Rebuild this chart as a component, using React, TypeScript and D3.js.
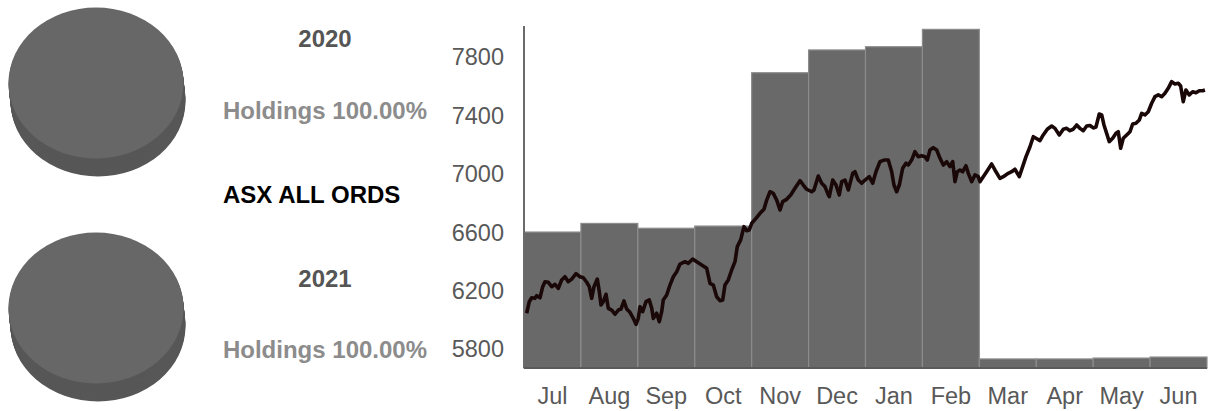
import React from 'react';
import * as d3 from 'd3';

const months = ['Jul', 'Aug', 'Sep', 'Oct', 'Nov', 'Dec', 'Jan', 'Feb', 'Mar', 'Apr', 'May', 'Jun'];
const barValues = [6601, 6660, 6627, 6642, 7692, 7848, 7870, 7989, 5732, 5732, 5738, 5745];
const yTicks = [5800, 6200, 6600, 7000, 7400, 7800];

const lineMonthOffset = [
  0.047, 0.093, 0.135, 0.193, 0.223, 0.281, 0.329, 0.369, 0.427, 0.487, 0.545, 0.603, 0.662, 0.72, 0.778, 0.838, 0.914, 0.984,
  1.042, 1.102, 1.147, 1.189, 1.23, 1.288, 1.323, 1.353, 1.393, 1.441, 1.481, 1.541, 1.599, 1.657, 1.704, 1.757, 1.804, 1.862, 1.92, 1.968,
  2.008, 2.038, 2.085, 2.143, 2.201, 2.244, 2.272, 2.331, 2.377, 2.419, 2.447, 2.507, 2.565, 2.623, 2.683, 2.741, 2.829, 2.887, 2.964,
  3.034, 3.122, 3.21, 3.268, 3.326, 3.385, 3.443, 3.491, 3.531, 3.589, 3.649, 3.707, 3.747, 3.807, 3.865, 3.913, 3.958,
  4.0, 4.076, 4.146, 4.216, 4.264, 4.322, 4.38, 4.44, 4.498, 4.545, 4.615, 4.686, 4.761, 4.849, 4.907, 4.967,
  5.054, 5.095, 5.17, 5.23, 5.288, 5.346, 5.364, 5.424, 5.482, 5.539, 5.582, 5.64, 5.698, 5.775, 5.815, 5.873, 5.933, 5.991,
  6.066, 6.126, 6.184, 6.254, 6.325, 6.4, 6.46, 6.5, 6.548, 6.594, 6.653, 6.711, 6.752, 6.811, 6.869, 6.927, 6.987,
  7.045, 7.086, 7.133, 7.191, 7.251, 7.309, 7.367, 7.426, 7.484, 7.532, 7.572, 7.612, 7.66, 7.707, 7.765, 7.806, 7.865, 7.923, 7.982,
  8.011, 8.069, 8.128, 8.216, 8.274, 8.362, 8.421, 8.508, 8.568, 8.626, 8.702, 8.761, 8.82, 8.89, 8.948, 8.995,
  9.065, 9.123, 9.194, 9.271, 9.329, 9.405, 9.475, 9.534, 9.592, 9.65, 9.71, 9.768, 9.826, 9.886, 9.944,
  10.002, 10.049, 10.107, 10.15, 10.19, 10.237, 10.283, 10.343, 10.401, 10.441, 10.483, 10.529, 10.589, 10.647, 10.694, 10.752, 10.81, 10.852, 10.91, 10.968,
  11.028, 11.086, 11.144, 11.203, 11.261, 11.319, 11.379, 11.437, 11.495, 11.537, 11.583, 11.63, 11.688, 11.748, 11.806, 11.864, 11.924, 11.964,
];

const lineValues = [
  6045, 6124, 6151, 6147, 6165, 6151, 6227, 6261, 6257, 6227, 6243, 6216, 6273, 6295, 6261, 6279, 6316, 6295,
  6288, 6257, 6227, 6147, 6227, 6279, 6193, 6101, 6124, 6175, 6079, 6067, 6038, 6067, 6074, 6129, 6074, 6051, 6010, 5969,
  6010, 6090, 6056, 6124, 6136, 6079, 6010, 6045, 5987, 6056, 6136, 6170, 6238, 6295, 6329, 6382, 6398, 6387, 6416,
  6398, 6375, 6353, 6250, 6238, 6158, 6131, 6136, 6238, 6273, 6341, 6398, 6501, 6547, 6638, 6610, 6615,
  6661, 6695, 6729, 6757, 6820, 6877, 6866, 6820, 6752, 6809, 6825, 6855, 6901, 6953, 6923, 6894,
  6877, 6889, 6985, 6935, 6912, 6855, 6843, 6957, 6923, 6855, 6946, 6957, 6889, 7003, 7014, 6957, 6935, 6957,
  6980, 6935, 7014, 7083, 7094, 7094, 7014, 6923, 6877, 6923, 7038, 7072, 7060, 7094, 7151, 7117, 7124,
  7117, 7094, 7163, 7179, 7163, 7106, 7060, 7083, 7049, 7083, 6946, 7014, 7026, 7014, 7055, 7003, 6946, 6992, 6980,
  6946, 6980, 7014, 7067, 7026, 6969, 6980, 7003, 7014, 7031, 6980, 7049, 7117, 7185, 7254, 7243,
  7227, 7266, 7305, 7327, 7311, 7266, 7305, 7311, 7295, 7305, 7334, 7311, 7295, 7327, 7331,
  7314, 7320, 7409, 7403, 7334, 7277, 7220, 7243, 7277, 7288, 7175, 7243, 7266, 7288, 7341, 7346, 7368, 7414, 7403, 7425,
  7483, 7528, 7540, 7528, 7551, 7585, 7631, 7615, 7620, 7601, 7494, 7574, 7540, 7562, 7555, 7569, 7569, 7574,
];

const pieYears = ['2020', '2021'];
const pieHoldings = [100, 100];
const holdingsLabel = 'Holdings';
const indexName = 'ASX ALL ORDS';

const FONT = '"Liberation Sans", Arial, Helvetica, sans-serif';

export default function App() {
  const W = 1209;
  const H = 411;
  const left = 524;
  const right = 1207;
  const top = 26;
  const bottom = 368;

  const xBand = d3.scaleBand<string>().domain(months).range([left, right]).padding(0);
  const xLine = d3.scaleLinear().domain([0, 12]).range([left, right]);
  const y = d3.scaleLinear().domain([5670, 8012]).range([bottom, top]);

  const linePath = d3
    .line<number>()
    .x((_, i) => xLine(lineMonthOffset[i]))
    .y((d) => y(d))(lineValues) as string;

  const rx = 87.5;
  const ryScale = 75.5 / 87.5;
  const depth = 18;
  const arc = d3.arc<d3.PieArcDatum<number>>().innerRadius(0).outerRadius(rx);
  const pieCenters = [
    { cx: 96, cy: 83 },
    { cx: 96, cy: 308 },
  ];
  const textCx = 325;
  const yearBaselines = [47, 287];
  const holdBaselines = [119, 358];

  return (
    <div style={{ position: 'absolute', left: 0, top: 0, width: W, height: H, background: '#fff' }}>
      <svg width={W} height={H} style={{ display: 'block', fontFamily: FONT }}>
        {/* pies */}
        {pieYears.map((yr, pi) => {
          const slices = d3.pie<number>().sort(null)([pieHoldings[pi]]);
          const { cx, cy } = pieCenters[pi];
          const layers = d3.range(depth, 0, -1);
          return (
            <g key={yr}>
              {layers.map((k) => (
                <g key={k} transform={`translate(${cx + (2 * k) / depth},${cy + k}) scale(1,${ryScale})`}>
                  {slices.map((s, si) => (
                    <path key={si} d={arc(s) as string} fill="#575757" />
                  ))}
                </g>
              ))}
              <g transform={`translate(${cx},${cy}) scale(1,${ryScale})`}>
                {slices.map((s, si) => (
                  <path key={si} d={arc(s) as string} fill="#676767" />
                ))}
              </g>
              <text x={textCx} y={yearBaselines[pi]} textAnchor="middle" fontWeight="bold" fontSize={24} fill="#555555">
                {yr}
              </text>
              <text x={textCx} y={holdBaselines[pi]} textAnchor="middle" fontWeight="bold" fontSize={24} fill="#8c8c8c">
                {`${holdingsLabel} ${pieHoldings[pi].toFixed(2)}%`}
              </text>
            </g>
          );
        })}
        <text x={223} y={203} fontWeight="bold" fontSize={24} fill="#000">
          {indexName}
        </text>

        {/* bars */}
        {months.map((m, i) => (
          <rect
            key={m}
            x={xBand(m) as number}
            y={y(barValues[i])}
            width={xBand.bandwidth()}
            height={bottom - y(barValues[i])}
            fill="#696969"
            stroke="#8c8c8c"
            strokeWidth={1.2}
          />
        ))}

        {/* axes */}
        <line x1={left} x2={left} y1={top} y2={bottom} stroke="#6b6b6b" strokeWidth={2} />
        <line x1={left} x2={right} y1={bottom} y2={bottom} stroke="#5a5a5a" strokeWidth={2} />
        {yTicks.map((t) => (
          <text key={t} x={504} y={y(t)} dy="0.36em" textAnchor="end" fontSize={23.5} fill="#595959">
            {t}
          </text>
        ))}
        {months.map((m) => (
          <text
            key={m}
            x={(xBand(m) as number) + xBand.bandwidth() / 2}
            y={404}
            textAnchor="middle"
            fontSize={23.5}
            fill="#595959"
          >
            {m}
          </text>
        ))}

        {/* line */}
        <path d={linePath} fill="none" stroke="#1a0808" strokeWidth={3.6} strokeLinejoin="round" />
      </svg>
    </div>
  );
}
